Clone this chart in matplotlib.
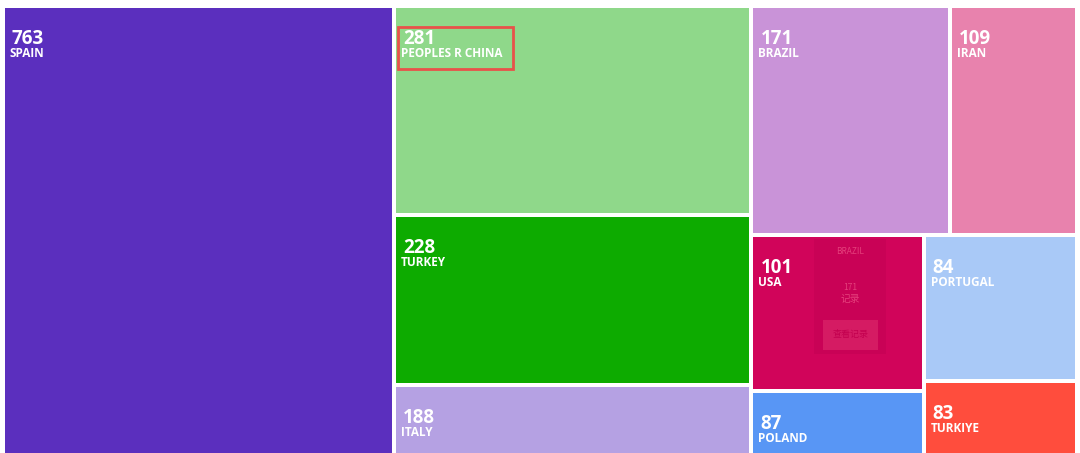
import matplotlib
matplotlib.use("Agg")
import matplotlib.pyplot as plt
from matplotlib.patches import Rectangle

# country counts (treemap)
countries = ["SPAIN", "PEOPLES R CHINA", "TURKEY", "ITALY", "BRAZIL",
             "IRAN", "USA", "POLAND", "PORTUGAL", "TURKIYE"]
counts = [763, 281, 228, 188, 171, 109, 101, 87, 84, 83]
colors = ["#5b2fbe", "#8fd88a", "#0dab00", "#b5a1e3", "#c993d8",
          "#e882ad", "#d1045a", "#5896f5", "#a9c9f7", "#ff4d3d"]

GOLDEN = 0.5 * (1 + 5 ** 0.5)


def worst(areas, fixed):
    s = sum(areas)
    f = fixed * fixed * GOLDEN
    return max(f * max(areas) / (s * s), (s * s) / (f * min(areas)))


def place(row, rect, out, flush):
    x, y, w, h = rect
    fixed = min(w, h)
    s = sum(a for _, a in row)
    horizontal = fixed == w
    other = s / fixed
    if flush or other > (h if horizontal else w):
        other = h if horizontal else w
    pos = x if horizontal else y
    for idx, a in row:
        step = a / other
        if horizontal:
            out[idx] = (pos, y, step, other)
        else:
            out[idx] = (x, pos, other, step)
        pos += step
    if horizontal:
        return (x, y + other, w, h - other)
    return (x + other, y, w - other, h)


def squarify(values, rect):
    x, y, w, h = rect
    total = sum(values)
    areas = [v / total * w * h for v in values]
    out = {}
    row = []
    best = float("inf")
    i = 0
    while i < len(areas):
        row.append((i, areas[i]))
        score = worst([a for _, a in row], min(rect[2], rect[3]))
        if score <= best:
            best = score
            i += 1
        else:
            row.pop()
            rect = place(row, rect, out, False)
            row = []
            best = float("inf")
    if row:
        place(row, rect, out, True)
    return [out[k] for k in range(len(values))]


fig = plt.figure(figsize=(10.8, 4.53), dpi=100)
ax = fig.add_axes([0, 0, 1, 1])
ax.set_xlim(0, 1080)
ax.set_ylim(453, 0)
ax.axis("off")

half_gap = 2
rects = squarify(counts, (3, 6, 1074, 519))
for (x, y, w, h), name, val, col in zip(rects, countries, counts, colors):
    ax.add_patch(Rectangle((x + half_gap, y + half_gap), w - 2 * half_gap,
                           h - 2 * half_gap, facecolor=col, edgecolor="none"))
    ax.text(x + 9, y + 33, str(val), color="white", fontsize=13.5,
            fontweight="bold", family="Open Sans", va="center", ha="left")
    ax.text(x + 7, y + 47.5, name, color="white", fontsize=8.5,
            fontweight="bold", family="Open Sans", va="center", ha="left")

# highlight box around the China label
cx, cy = rects[1][0], rects[1][1]
ax.add_patch(Rectangle((cx + 4, cy + 21), 115, 42, facecolor="none",
                       edgecolor="#e8524a", linewidth=2))

# faded tooltip left over in the USA cell
ux, uy = rects[6][0], rects[6][1]
cjk = ["Noto Sans CJK SC", "DejaVu Sans"]
ax.add_patch(Rectangle((ux + 63, uy + 4), 72, 115, facecolor="#b8004e",
                       alpha=0.3, edgecolor="none"))
ax.text(ux + 99, uy + 17, "BRAZIL", color="#e5407c", fontsize=6,
        ha="center", va="center", family=cjk)
ax.text(ux + 99, uy + 53, "171", color="#e5407c", fontsize=6,
        ha="center", va="center", family=cjk)
ax.text(ux + 99, uy + 64, "记录", color="#e5407c", fontsize=7,
        ha="center", va="center", family=cjk)
ax.add_patch(Rectangle((ux + 72, uy + 85), 55, 30, facecolor="#e0306f",
                       alpha=0.55, edgecolor="none"))
ax.text(ux + 99.5, uy + 100, "查看记录", color="#c3004f", fontsize=6.5,
        ha="center", va="center", family=cjk)

fig.savefig("out.png", dpi=100)
